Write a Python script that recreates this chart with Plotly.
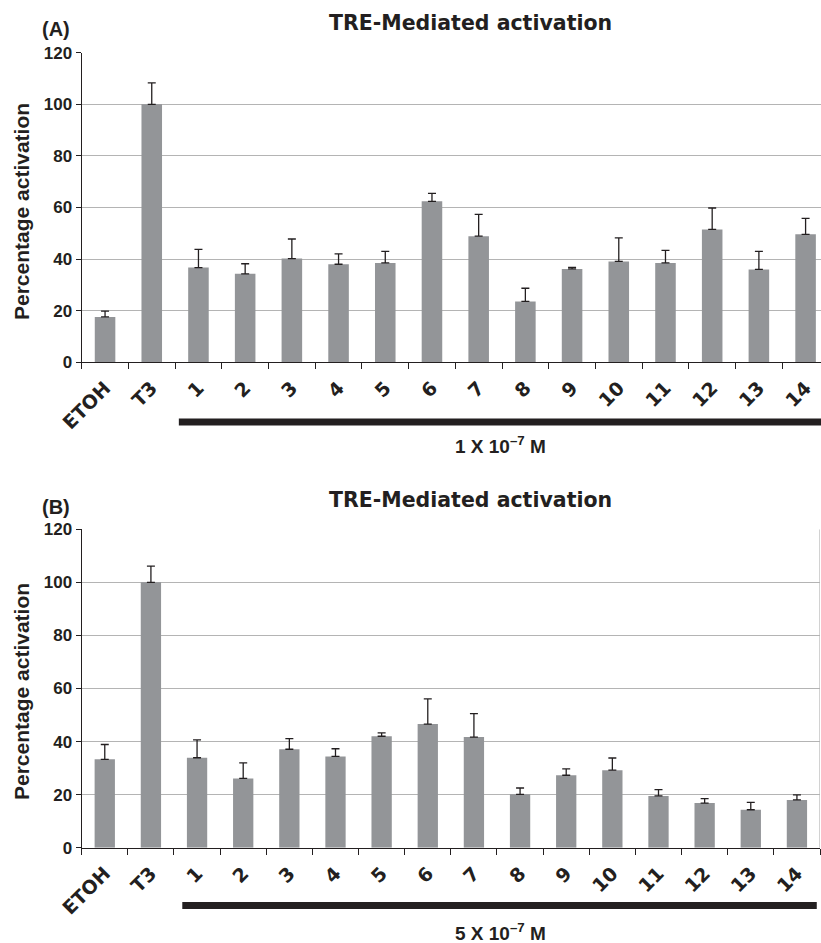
import plotly.graph_objects as go

categories = ["ETOH", "T3", "1", "2", "3", "4", "5", "6", "7", "8", "9", "10", "11", "12", "13", "14"]

values_a = [17.6, 100, 36.7, 34.3, 40.2, 38.0, 38.5, 62.4, 48.9, 23.6, 36.2, 39.1, 38.5, 51.5, 36.0, 49.6]
errors_a = [2.2, 8.3, 7.1, 3.9, 7.6, 4.0, 4.5, 3.1, 8.4, 5.1, 0.6, 9.1, 4.9, 8.3, 7.0, 6.2]

values_b = [33.3, 100, 33.9, 26.1, 37.1, 34.4, 42.0, 46.6, 41.7, 20.1, 27.3, 29.2, 19.5, 16.8, 14.3, 18.0]
errors_b = [5.6, 6.1, 6.7, 5.9, 4.0, 2.9, 1.3, 9.5, 8.8, 2.4, 2.4, 4.6, 2.4, 1.7, 2.8, 1.9]

y_ticks = [0, 20, 40, 60, 80, 100, 120]

W, H = 821, 943
BAR = "#939598"
INK = "#231f20"
GRID = "#b4b4b4"


def px(x):
    return x / W


def py(y):
    return 1 - y / H


fig = go.Figure()
for vals, errs, xa, ya in [(values_a, errors_a, "x", "y"), (values_b, errors_b, "x2", "y2")]:
    fig.add_trace(go.Bar(
        x=categories, y=vals, xaxis=xa, yaxis=ya,
        marker=dict(color=BAR, line=dict(width=0)),
        width=0.44,
        error_y=dict(type="data", array=errs, arrayminus=[0] * len(errs),
                     symmetric=False, color=INK, thickness=1.3, width=4),
        showlegend=False,
    ))

xcommon = dict(type="category", showline=True, linecolor=INK, linewidth=1.3,
               ticks="outside", ticklen=6, tickcolor=INK, tickwidth=1.2,
               tickson="boundaries", tickangle=-45, showgrid=False, zeroline=False,
               ticklabelstandoff=6,
               tickfont=dict(family="DejaVu Sans", size=19, color=INK, weight="bold"))
ycommon = dict(range=[0, 120], tickvals=y_ticks, showline=True, linecolor=INK, linewidth=1.3,
               ticks="outside", ticklen=5, tickcolor=INK, showgrid=True, gridcolor=GRID,
               gridwidth=1.2, zeroline=False,
               tickfont=dict(family="Liberation Sans", size=17, color=INK, weight="bold"))

fig.update_layout(
    width=W, height=H, template="none",
    paper_bgcolor="white", plot_bgcolor="white",
    margin=dict(l=0, r=0, t=0, b=0),
    xaxis=dict(xcommon, domain=[px(81.7), 1.0], range=[-0.5, 15.33], anchor="y"),
    yaxis=dict(ycommon, domain=[py(362.3), py(52.7)], anchor="x"),
    xaxis2=dict(xcommon, domain=[px(81.7), px(820)], range=[-0.5, 15.5], anchor="y2"),
    yaxis2=dict(ycommon, domain=[py(847.7), py(529.3)], anchor="x2"),
)

shapes = []
# right border of panel B
shapes.append(dict(type="line", xref="x2", yref="y2", x0=15.5, x1=15.5, y0=0, y1=120,
                   line=dict(color=GRID, width=1.2)))
# concentration bars
shapes.append(dict(type="rect", xref="x", yref="paper", x0=1.58, x1=16.5,
                   y0=py(425.5), y1=py(418.5), fillcolor=INK, line=dict(width=0)))
shapes.append(dict(type="rect", xref="x2", yref="paper", x0=1.68, x1=15.43,
                   y0=py(909), y1=py(902), fillcolor=INK, line=dict(width=0)))
fig.update_layout(shapes=shapes)

ann = []
title_font = dict(family="DejaVu Sans", size=20.5, color=INK, weight="bold")
lab_font = dict(family="Liberation Sans", size=20, color=INK, weight="bold")
ytitle_font = dict(family="Liberation Sans", size=21, color=INK, weight="bold")
conc_font = dict(family="Liberation Sans", size=19, color=INK, weight="bold")

for tag, tcy, lcy, ycen, conc, ccy in [("(A)", 22.7, 29, 212, "1 X 10<sup>\u20137</sup> M", 445),
                                        ("(B)", 500, 507, 692, "5 X 10<sup>\u20137</sup> M", 932)]:
    ann.append(dict(text="TRE-Mediated activation", x=px(470.5), y=py(tcy), xref="paper", yref="paper",
                    xanchor="center", yanchor="middle", showarrow=False, font=title_font))
    ann.append(dict(text=tag, x=px(56), y=py(lcy), xref="paper", yref="paper",
                    xanchor="center", yanchor="middle", showarrow=False, font=lab_font))
    ann.append(dict(text="Percentage activation", x=px(21), y=py(ycen), xref="paper", yref="paper",
                    xanchor="center", yanchor="middle", showarrow=False, textangle=-90, font=ytitle_font))
    ann.append(dict(text=conc, x=px(500), y=py(ccy), xref="paper", yref="paper",
                    xanchor="center", yanchor="middle", showarrow=False, font=conc_font))
fig.update_layout(annotations=ann)

fig.write_html("out.html")
